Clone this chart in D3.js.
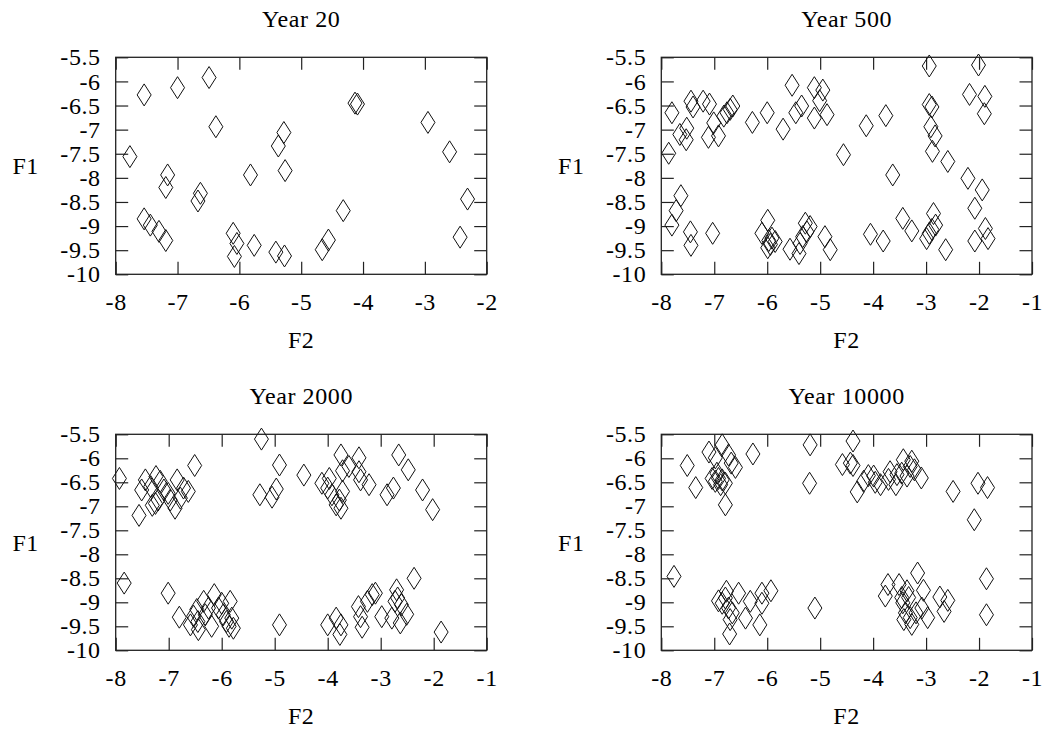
<!DOCTYPE html>
<html>
<head>
<meta charset="utf-8">
<script src="https://d3js.org/d3.v7.min.js"></script>
<style>
  body { margin: 0; background: #fff; }
  text { font-family: "Liberation Serif", "Times New Roman", serif; font-size: 24px; fill: #000; letter-spacing: 0.6px; }
</style>
</head>
<body>
<svg id="chart" width="1054" height="732"></svg>
<script>
// [F2, F1] pairs
const year20 = [
    [-7.54, -6.28], [-7.00, -6.13], [-6.49, -5.92], [-6.38, -6.94], [-7.77, -7.56], [-7.16, -7.94],
    [-7.19, -8.20], [-6.63, -8.32], [-6.67, -8.48], [-7.54, -8.85], [-7.44, -8.98], [-7.30, -9.11],
    [-7.19, -9.30], [-6.10, -9.15], [-6.04, -9.36], [-6.08, -9.63], [-5.76, -9.40], [-5.82, -7.94],
    [-5.41, -9.54], [-5.27, -9.62], [-5.37, -7.34], [-5.28, -7.06], [-5.26, -7.85], [-4.66, -9.49],
    [-4.56, -9.29], [-4.32, -8.68], [-4.13, -6.45], [-4.09, -6.47], [-2.95, -6.85], [-2.60, -7.46],
    [-2.31, -8.44], [-2.43, -9.23]
];

const year500 = [
    [-5.53, -6.08], [-5.11, -6.13], [-4.95, -6.18], [-5.01, -6.40], [-4.87, -6.69], [-5.11, -6.76],
    [-5.35, -6.51], [-5.46, -6.65], [-5.70, -6.99], [-6.00, -6.65], [-6.28, -6.85], [-6.65, -6.51],
    [-6.70, -6.58], [-6.76, -6.65], [-6.82, -6.72], [-7.01, -6.86], [-6.92, -7.13], [-7.11, -7.16],
    [-7.09, -6.47], [-7.21, -6.41], [-7.40, -6.53], [-7.44, -6.41], [-7.52, -6.97], [-7.53, -7.21],
    [-7.65, -7.10], [-7.80, -6.65], [-7.86, -7.49], [-7.63, -8.37], [-7.72, -8.68], [-7.80, -8.98],
    [-7.45, -9.12], [-7.44, -9.40], [-7.03, -9.15], [-5.99, -8.88], [-6.10, -9.15], [-5.97, -9.30],
    [-5.91, -9.25], [-5.85, -9.32], [-5.99, -9.45], [-5.94, -9.38], [-5.57, -9.48], [-5.40, -9.57],
    [-5.38, -9.36], [-5.28, -8.94], [-5.19, -9.01], [-5.25, -9.12], [-5.33, -9.22], [-4.91, -9.22],
    [-4.81, -9.49], [-4.56, -7.52], [-2.94, -5.68], [-2.01, -5.66], [-2.18, -6.27], [-1.89, -6.31],
    [-1.90, -6.67], [-2.94, -6.48], [-2.89, -6.53], [-2.91, -6.94], [-2.83, -7.13], [-2.88, -7.45],
    [-2.59, -7.66], [-3.76, -6.71], [-4.13, -6.92], [-3.63, -7.94], [-2.21, -8.01], [-1.94, -8.25],
    [-2.08, -8.63], [-3.44, -8.84], [-3.27, -9.10], [-4.05, -9.17], [-3.81, -9.31], [-2.86, -8.74],
    [-2.82, -8.98], [-2.89, -9.07], [-2.94, -9.15], [-2.99, -9.26], [-2.63, -9.49], [-2.08, -9.31],
    [-1.88, -9.05], [-1.83, -9.26]
];

const year2000 = [
    [-7.93, -6.42], [-7.56, -7.19], [-7.51, -6.66], [-7.44, -6.45], [-7.34, -6.59], [-7.24, -6.38],
    [-7.16, -6.48], [-7.09, -6.66], [-7.31, -6.98], [-7.25, -6.94], [-7.20, -6.87], [-7.01, -6.73],
    [-6.97, -6.87], [-6.84, -6.45], [-6.88, -7.04], [-6.78, -6.83], [-6.72, -6.62], [-6.63, -6.69],
    [-6.51, -6.15], [-5.25, -5.60], [-4.91, -6.14], [-5.28, -6.76], [-5.05, -6.81], [-4.97, -6.64],
    [-4.45, -6.35], [-4.11, -6.52], [-3.97, -6.42], [-4.00, -6.62], [-3.92, -6.76], [-3.84, -6.97],
    [-3.75, -7.04], [-3.78, -6.87], [-3.72, -6.69], [-3.75, -5.93], [-3.72, -6.26], [-3.60, -6.17],
    [-3.41, -5.99], [-3.41, -6.28], [-3.38, -6.45], [-3.22, -6.55], [-2.88, -6.76], [-2.76, -6.62],
    [-2.66, -5.93], [-2.48, -6.24], [-2.21, -6.66], [-2.02, -7.07],
    [-7.84, -8.60], [-7.01, -8.81], [-6.80, -9.31], [-6.59, -9.47], [-6.53, -9.29], [-6.47, -9.15],
    [-6.44, -9.57], [-6.34, -8.98], [-6.31, -9.26], [-6.25, -9.12], [-6.19, -9.50], [-6.14, -8.84],
    [-6.06, -9.12], [-6.00, -9.02], [-5.97, -9.26], [-5.84, -8.98], [-5.91, -9.40], [-5.81, -9.33],
    [-5.86, -9.50], [-5.78, -9.54], [-6.45, -9.40], [-4.91, -9.47], [-2.37, -8.50], [-4.00, -9.47],
    [-3.84, -9.33], [-3.75, -9.47], [-3.77, -9.67], [-3.42, -9.09], [-3.38, -9.30], [-3.35, -9.52],
    [-3.25, -8.98], [-3.16, -8.84], [-3.10, -8.81], [-2.98, -9.30], [-2.79, -9.33], [-2.73, -8.98],
    [-2.70, -8.74], [-2.68, -8.91], [-2.61, -9.05], [-2.63, -9.43], [-2.51, -9.25], [-1.86, -9.62]
];

const year10000 = [
    [-7.51, -6.15], [-7.35, -6.61], [-7.10, -5.87], [-6.98, -5.99], [-6.85, -5.72], [-6.73, -5.93],
    [-6.60, -6.19], [-6.68, -6.10], [-7.04, -6.42], [-6.98, -6.48], [-6.92, -6.42], [-6.88, -6.55],
    [-6.85, -6.45], [-6.79, -6.52], [-6.95, -6.31], [-6.79, -6.97], [-6.27, -5.91], [-5.19, -5.72],
    [-5.20, -6.52], [-4.38, -5.64], [-4.43, -6.10], [-4.38, -6.15], [-4.58, -6.13], [-4.30, -6.70],
    [-4.18, -6.48], [-4.09, -6.36], [-3.99, -6.37], [-3.96, -6.50], [-3.86, -6.55], [-3.68, -6.28],
    [-3.71, -6.44], [-3.57, -6.55], [-3.55, -6.34], [-3.43, -6.03], [-3.46, -6.31], [-3.36, -6.37],
    [-3.30, -6.17], [-3.27, -6.06], [-3.22, -6.24], [-3.09, -6.41], [-2.49, -6.69], [-2.02, -6.52],
    [-1.84, -6.61], [-2.09, -7.28],
    [-7.76, -8.46], [-6.92, -8.97], [-6.85, -9.02], [-6.79, -8.91], [-6.77, -8.77], [-6.73, -9.12],
    [-6.66, -9.22], [-6.70, -9.36], [-6.71, -9.66], [-6.54, -8.81], [-6.41, -9.33], [-6.32, -8.98],
    [-6.14, -9.47], [-6.10, -9.02], [-6.10, -8.81], [-5.93, -8.76], [-5.10, -9.12], [-1.86, -8.51],
    [-1.86, -9.26], [-3.16, -8.39], [-3.72, -8.63], [-3.77, -8.87], [-3.51, -8.63], [-3.46, -8.90],
    [-3.36, -8.76], [-3.33, -8.90], [-3.44, -9.01], [-3.39, -9.22], [-3.42, -9.36], [-3.30, -9.32],
    [-3.27, -9.46], [-3.19, -9.22], [-3.08, -9.12], [-3.05, -8.75], [-2.97, -9.32], [-2.74, -8.89],
    [-2.59, -8.96], [-2.66, -9.19]
];

const titles = ["Year 20", "Year 500", "Year 2000", "Year 10000"];
const yTicks = [-10, -9.5, -9, -8.5, -8, -7.5, -7, -6.5, -6, -5.5];
const xTicksShort = [-8, -7, -6, -5, -4, -3, -2];
const xTicksLong = [-8, -7, -6, -5, -4, -3, -2, -1];

const svg = d3.select("#chart");

// panel frames in pixels
const panels = [
    {data: year20, title: titles[0], ticks: xTicksShort, left: 115.7, right: 486.7, top: 57.3, bottom: 274.3},
    {data: year500, title: titles[1], ticks: xTicksLong, left: 661.3, right: 1032, top: 57.3, bottom: 274.3},
    {data: year2000, title: titles[2], ticks: xTicksLong, left: 115.7, right: 486.7, top: 434.3, bottom: 650.3},
    {data: year10000, title: titles[3], ticks: xTicksLong, left: 661.3, right: 1032, top: 434.3, bottom: 650.3}
];

const tickLen = 12.5;
const plain = d => String(d);   // keep ascii hyphen as in the original

panels.forEach(p => {
    const x = d3.scaleLinear().domain(d3.extent(p.ticks)).range([p.left, p.right]);
    const y = d3.scaleLinear().domain([-10, -5.5]).range([p.bottom, p.top]);
    const g = svg.append("g");

    // ticks pointing inwards, mirrored on all four sides
    g.append("g")
        .attr("transform", "translate(0," + p.bottom + ")")
        .call(d3.axisBottom(x).tickValues(p.ticks).tickSizeInner(-tickLen).tickSizeOuter(0)
            .tickPadding(19).tickFormat(plain));
    g.append("g")
        .attr("transform", "translate(0," + p.top + ")")
        .call(d3.axisTop(x).tickValues(p.ticks).tickSizeInner(-tickLen).tickSizeOuter(0).tickFormat(""));
    g.append("g")
        .attr("transform", "translate(" + p.left + ",0)")
        .call(d3.axisLeft(y).tickValues(yTicks).tickSizeInner(-tickLen).tickSizeOuter(0)
            .tickPadding(15).tickFormat(plain));
    g.append("g")
        .attr("transform", "translate(" + p.right + ",0)")
        .call(d3.axisRight(y).tickValues(yTicks).tickSizeInner(-tickLen).tickSizeOuter(0).tickFormat(""));

    g.selectAll(".domain").remove();
    g.selectAll(".tick line").attr("stroke", "#222").attr("stroke-width", 1.2);
    g.selectAll(".tick text")
        .attr("font-family", null).attr("font-size", null).attr("fill", null);

    g.append("rect")
        .attr("x", p.left).attr("y", p.top)
        .attr("width", p.right - p.left).attr("height", p.bottom - p.top)
        .attr("fill", "none").attr("stroke", "#222").attr("stroke-width", 1.3);

    // diamonds
    g.append("g").selectAll("path")
        .data(p.data)
        .join("path")
        .attr("d", d => {
            const cx = x(d[0]), cy = y(d[1]);
            return "M" + cx + "," + (cy - 11) + "L" + (cx + 7) + "," + cy +
                "L" + cx + "," + (cy + 11) + "L" + (cx - 7) + "," + cy + "Z";
        })
        .attr("fill", "none")
        .attr("stroke", "#111")
        .attr("stroke-width", 1);

    const mid = (p.left + p.right) / 2;
    g.append("text")
        .attr("x", mid).attr("y", p.top - 30)
        .attr("text-anchor", "middle")
        .text(p.title);
    g.append("text")
        .attr("x", mid).attr("y", p.bottom + 74)
        .attr("text-anchor", "middle")
        .text("F2");
    g.append("text")
        .attr("x", p.left - 90).attr("y", (p.top + p.bottom) / 2)
        .attr("dy", "0.35em")
        .attr("text-anchor", "middle")
        .text("F1");
});
</script>
</body>
</html>
